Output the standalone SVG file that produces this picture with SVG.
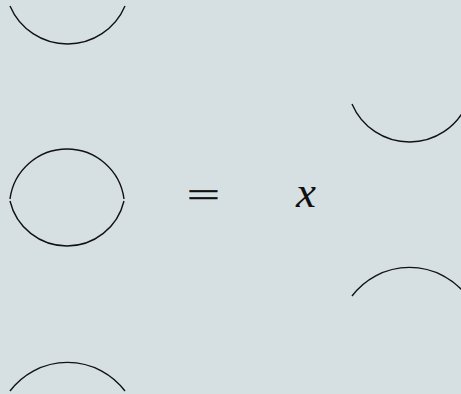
<svg xmlns="http://www.w3.org/2000/svg" width="461" height="394" viewBox="0 0 461 394">
<style>
.arc{fill:none;stroke:#111;stroke-width:1.4;stroke-linecap:butt}
.eq{font-family:"DejaVu Sans",sans-serif;font-weight:200;font-size:44px;fill:#111;stroke:#111;stroke-width:0.5}
.var{font-family:"Liberation Serif",serif;font-style:italic;font-size:45px;fill:#111}
</style>
<rect width="461" height="394" fill="#d6e0e3"/>
<g id="arc-top-left"><path class="arc" d="M10,6 A62.5,62.5 0 0 0 125,6"/></g>
<g id="circle-middle">
<path class="arc" d="M10,199 A57.5,57.5 0 0 1 124,199"/>
<path class="arc" d="M10,201 A58.6,58.6 0 0 0 124,201"/>
</g>
<g id="arc-bottom-left"><path class="arc" d="M10,391 A72,72 0 0 1 125,391"/></g>
<g id="arc-right-upper"><path class="arc" d="M352,104 A62.5,62.5 0 0 0 467,104"/></g>
<g id="arc-right-lower"><path class="arc" d="M352,296 A72,72 0 0 1 467,296"/></g>
<g id="equals"><text class="eq" x="203.5" y="209" text-anchor="middle">=</text></g>
<g id="var-x"><text class="var" x="306" y="207" text-anchor="middle">x</text></g>
</svg>
